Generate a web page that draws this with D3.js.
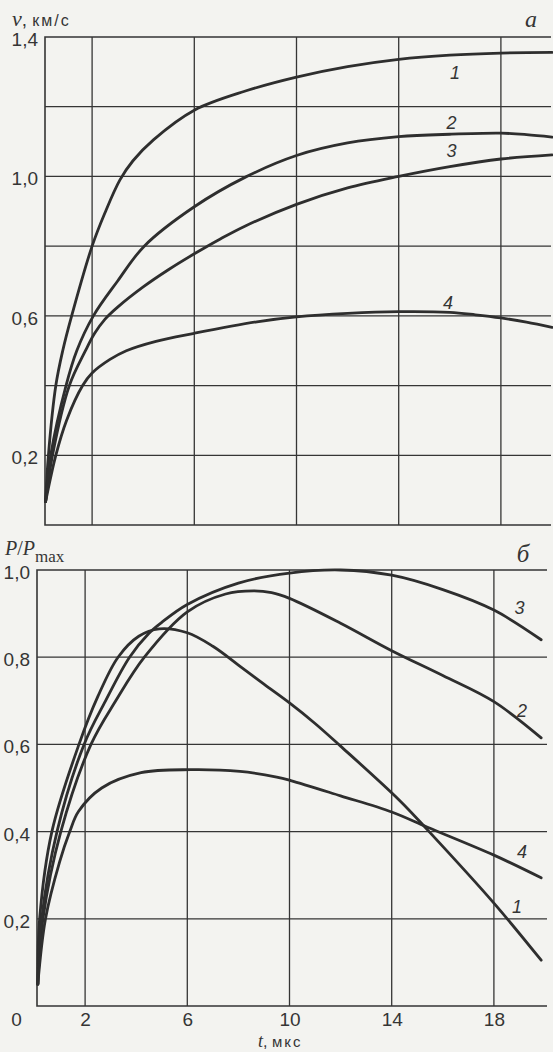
<!DOCTYPE html>
<html>
<head>
<meta charset="utf-8">
<script src="https://cdn.jsdelivr.net/npm/d3@7"></script>
<style>
  body { margin: 0; background: #f3f3f0; }
  svg { display: block; }
</style>
</head>
<body>
<div id="chart"></div>
<script>
// t, мкс -> v, км/с (panel a)
var vel1 = [[0.18,0.067],[0.29,0.2],[0.58,0.4],[0.85,0.5],[1.2,0.6],[2.0,0.8],[2.5,0.895],[3.09,0.99],[3.6,1.045],[4.4,1.105],[6,1.19],[8,1.245],[10,1.285],[12,1.315],[14,1.336],[16,1.348],[18,1.354],[20,1.356]];
var vel2 = [[0.18,0.067],[0.38,0.2],[0.98,0.4],[1.4,0.5],[2.05,0.6],[3,0.7],[4.04,0.8],[6,0.913],[8,0.998],[10,1.06],[12,1.096],[14,1.114],[16,1.121],[18,1.124],[19,1.12],[20,1.113]];
var vel3 = [[0.18,0.067],[0.45,0.2],[1.11,0.4],[1.74,0.5],[2.1,0.55],[2.5,0.59],[3,0.625],[4,0.683],[5,0.733],[6,0.778],[7,0.82],[8,0.858],[10,0.92],[12,0.967],[14,1.0],[16,1.028],[18,1.05],[20,1.062]];
var vel4 = [[0.18,0.067],[0.58,0.2],[1.0,0.3],[1.63,0.4],[2,0.436],[2.7,0.475],[3.34,0.5],[4.5,0.527],[6,0.55],[8.45,0.583],[10,0.597],[12,0.607],[14,0.612],[16,0.61],[17,0.603],[18,0.594],[19,0.582],[20,0.567]];

// t, мкс -> P/Pmax (panel б)
var pres1 = [[0.15,0.05],[0.22,0.2],[0.7,0.4],[1.76,0.6],[2.5,0.71],[3.29,0.8],[4.1,0.848],[4.9,0.865],[6,0.856],[7,0.825],[8,0.782],[9,0.738],[10,0.695],[11,0.648],[12,0.596],[14.3,0.472],[15.4,0.404],[18,0.236],[19.85,0.105]];
var pres2 = [[0.15,0.05],[0.35,0.2],[1.05,0.4],[2.23,0.6],[3.2,0.7],[4.32,0.8],[6,0.904],[7.5,0.945],[8.6,0.952],[9.3,0.948],[10,0.935],[12,0.878],[14,0.815],[16,0.758],[18,0.698],[19.85,0.615]];
var pres3 = [[0.15,0.05],[0.3,0.2],[0.9,0.4],[1.96,0.6],[2.8,0.7],[3.74,0.8],[4.5,0.855],[5,0.88],[6,0.921],[8,0.97],[10,0.993],[12,1.0],[14,0.988],[16,0.955],[18,0.908],[19.85,0.84]];
var pres4 = [[0.15,0.05],[0.45,0.2],[1.0,0.33],[1.4,0.4],[1.74,0.446],[2.65,0.5],[4.19,0.535],[6.13,0.542],[8.06,0.538],[9.5,0.525],[10.05,0.517],[12,0.482],[14,0.445],[15.4,0.41],[18,0.346],[19.85,0.294]];

var curveNames = ["1", "2", "3", "4"];
var tGrid = [2, 6, 10, 14, 18];
var tTicks = [0, 2, 6, 10, 14, 18];
var vGrid = [0.2, 0.4, 0.6, 0.8, 1.0, 1.2];
var vTicks = [0.2, 0.6, 1.0, 1.4];
var pGrid = [0.2, 0.4, 0.6, 0.8];
var pTicks = [0.2, 0.4, 0.6, 0.8, 1.0];

// where the curve numbers sit, in data units
var velLabelAt = [[16.2,1.279],[16.07,1.136],[16.07,1.056],[15.93,0.62]];
var presLabelAt = [[18.9,0.213],[19.1,0.663],[19.0,0.899],[19.1,0.339]];

var width = 553, height = 1052;
var ink = "#353535";

var svg = d3.select("#chart").append("svg")
  .attr("width", width)
  .attr("height", height);

svg.append("rect").attr("width", width).attr("height", height).attr("fill", "#f3f3f0");

var comma = function(d) { return d3.format(".1f")(d).replace(".", ","); };

function panel(opt) {
  var g = svg.append("g");
  var x = opt.x, y = opt.y;
  var y0 = y.range()[0], y1 = y.range()[1];

  // grid
  g.selectAll(".vg").data(tGrid).enter().append("line")
    .attr("x1", function(d) { return x(d); }).attr("x2", function(d) { return x(d); })
    .attr("y1", y1).attr("y2", y0)
    .attr("stroke", ink).attr("stroke-width", 1.3);
  g.selectAll(".hg").data(opt.grid).enter().append("line")
    .attr("x1", opt.left).attr("x2", opt.right)
    .attr("y1", function(d) { return y(d); }).attr("y2", function(d) { return y(d); })
    .attr("stroke", ink).attr("stroke-width", 1.3);

  // frame: left, top, bottom
  g.append("path")
    .attr("d", "M" + opt.right + "," + y1 + "H" + opt.left + "V" + y0 + "H" + opt.right)
    .attr("fill", "none").attr("stroke", ink).attr("stroke-width", 1.6);

  // y tick labels
  var ax = g.append("g")
    .attr("transform", "translate(" + opt.left + ",0)")
    .call(d3.axisLeft(y).tickValues(opt.ticks).tickSize(0).tickPadding(7).tickFormat(comma));
  ax.select(".domain").remove();
  ax.selectAll("text")
    .attr("dy", "0.45em")
    .style("font-family", "'Liberation Sans', Arial, sans-serif")
    .style("font-size", "19px")
    .attr("fill", ink);

  // curves
  var line = d3.line()
    .x(function(d) { return x(d[0]); })
    .y(function(d) { return y(d[1]); })
    .curve(d3.curveCatmullRom.alpha(0.5));
  g.selectAll(".curve").data(opt.series).enter().append("path")
    .attr("d", line)
    .attr("fill", "none")
    .attr("stroke", "#2e2e2e")
    .attr("stroke-width", 2.8)
    .attr("stroke-linecap", "round");

  // curve numbers
  g.selectAll(".lbl").data(opt.labels).enter().append("text")
    .attr("x", function(d) { return x(d[0]); })
    .attr("y", function(d) { return y(d[1]); })
    .attr("text-anchor", "middle")
    .style("font-family", "'Liberation Sans', Arial, sans-serif")
    .style("font-style", "italic")
    .style("font-size", "18px")
    .attr("fill", ink)
    .text(function(d, i) { return curveNames[i]; });

  return g;
}

var xTop = d3.scaleLinear().domain([0, 20]).range([41, 552]);
var yTop = d3.scaleLinear().domain([0, 1.4]).range([525, 37]);
var xBot = d3.scaleLinear().domain([0, 20]).range([34, 545]);
var yBot = d3.scaleLinear().domain([0, 1]).range([1006, 570]);

panel({x: xTop, y: yTop, left: 45, right: 551, grid: vGrid, ticks: vTicks,
       series: [vel1, vel2, vel3, vel4], labels: velLabelAt});
var gb = panel({x: xBot, y: yBot, left: 37, right: 547, grid: pGrid, ticks: pTicks,
       series: [pres1, pres2, pres3, pres4], labels: presLabelAt});

// t axis labels
var xa = gb.append("g")
  .attr("transform", "translate(0," + yBot(0) + ")")
  .call(d3.axisBottom(xBot).tickValues(tTicks).tickSize(0).tickPadding(7)
    .tickFormat(function(d) { return d; }));
xa.select(".domain").remove();
xa.selectAll("text")
  .attr("dy", "0.71em")
  .style("font-family", "'Liberation Sans', Arial, sans-serif")
  .style("font-size", "19px")
  .attr("fill", ink);
xa.selectAll(".tick").filter(function(d) { return d === 0; }).select("text").attr("dx", -18);

var serif = "'Liberation Serif', 'DejaVu Serif', serif";
var sans = "'Liberation Sans', Arial, sans-serif";

// v, км/с
var tv = svg.append("text").attr("x", 12).attr("y", 26).attr("fill", ink);
tv.append("tspan").style("font-family", serif).style("font-style", "italic").style("font-size", "22px").text("v");
tv.append("tspan").style("font-family", sans).style("font-size", "19px").text(", ");
tv.append("tspan").style("font-family", sans).style("font-size", "16px").style("letter-spacing", "2px").text("км/с");

// a
svg.append("text").attr("x", 531).attr("y", 27).attr("text-anchor", "middle")
  .style("font-family", serif).style("font-style", "italic").style("font-size", "24px")
  .attr("fill", ink).text("a");

// P/Pmax
var tp = svg.append("text").attr("x", 5).attr("y", 555).attr("fill", ink)
  .style("font-family", serif).style("font-size", "20px");
tp.append("tspan").style("font-style", "italic").text("P");
tp.append("tspan").text("/");
tp.append("tspan").style("font-style", "italic").text("P");
tp.append("tspan").attr("dy", 7).style("font-size", "17px").text("max");

// б
svg.append("text").attr("x", 523).attr("y", 562).attr("text-anchor", "middle")
  .style("font-family", serif).style("font-style", "italic").style("font-size", "25px")
  .attr("fill", ink).text("б");

// t, мкс
var tt = svg.append("text").attr("x", 258).attr("y", 1047).attr("fill", ink);
tt.append("tspan").style("font-family", serif).style("font-style", "italic").style("font-size", "18px").text("t");
tt.append("tspan").style("font-family", sans).style("font-size", "16px").text(", ");
tt.append("tspan").style("font-family", sans).style("font-size", "15px").style("letter-spacing", "2px").text("мкс");
</script>
</body>
</html>
